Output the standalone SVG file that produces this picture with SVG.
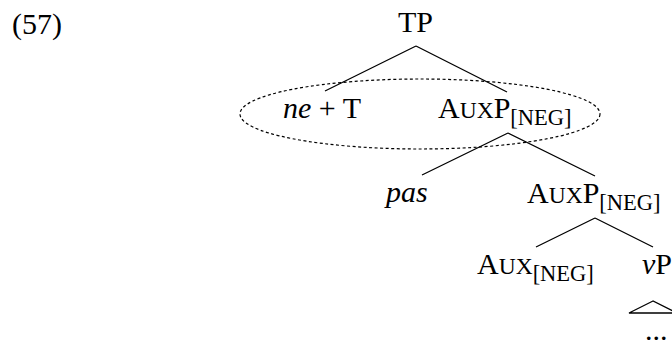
<svg xmlns="http://www.w3.org/2000/svg" width="672" height="347" viewBox="0 0 672 347">
<style>
.sc{font-size:23.5px}
.sub{font-size:22.5px}
.it{font-style:italic}
.edge{stroke:#000;stroke-width:1.3;fill:none}
.ell{stroke:#000;stroke-width:1.2;fill:none;stroke-dasharray:3 2.5}
</style>
<rect width="672" height="347" fill="#fff"/>
<text x="12" y="34" font-family="Liberation Serif" font-size="30">(57)</text>
<g id="connectors">
<path class="edge" d="M416,46 L325,91 M416,46 L507,92"/>
<path class="edge" d="M508,133 L422,175 M508,133 L595,176"/>
<path class="edge" d="M595,218 L536,247 M595,218 L653,247"/>
<path class="edge" d="M653,301 L629,313 L677,313 Z"/>
</g>
<ellipse id="group-ellipse" class="ell" cx="420" cy="114" rx="180" ry="35"/>
<g font-family="Liberation Serif" font-size="30" fill="#000">
<g id="n-tp"><text x="398" y="32" font-family="Liberation Serif">TP</text></g>
<g id="n-net"><text x="283" y="118" font-family="Liberation Serif"><tspan class="it">ne</tspan> + T</text></g>
<g id="n-auxp1"><text x="438" y="118" font-family="Liberation Serif">A<tspan class="sc">UX</tspan>P<tspan class="sub" dy="7">[NEG]</tspan></text></g>
<g id="n-pas"><text x="386" y="202" font-family="Liberation Serif" class="it">pas</text></g>
<g id="n-auxp2"><text x="527" y="203" font-family="Liberation Serif">A<tspan class="sc">UX</tspan>P<tspan class="sub" dy="7">[NEG]</tspan></text></g>
<g id="n-aux"><text x="477" y="274" font-family="Liberation Serif">A<tspan class="sc">UX</tspan><tspan class="sub" dy="7">[NEG]</tspan></text></g>
<g id="n-vp"><text x="642" y="274" font-family="Liberation Serif"><tspan class="it">v</tspan>P</text></g>
<g id="n-dots"><text x="645" y="340" font-family="Liberation Serif">...</text></g>
</g>
</svg>
